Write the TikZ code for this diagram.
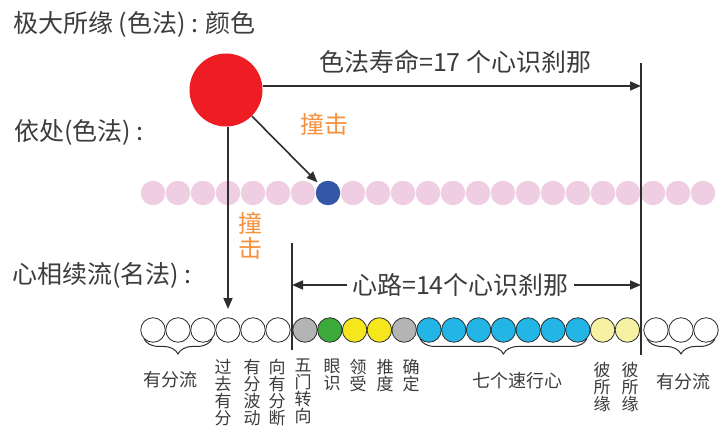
\documentclass[tikz,border=0pt]{standalone}
\usepackage{fontspec}
\setmainfont{Noto Sans CJK SC}
\usetikzlibrary{arrows.meta,decorations.pathreplacing}
\definecolor{txt}{HTML}{3C3C3C}
\definecolor{ln}{HTML}{2E2E2E}
\definecolor{redc}{HTML}{EE1D24}
\definecolor{orangec}{HTML}{F7913D}
\definecolor{pinkc}{HTML}{EFCDE2}
\definecolor{bluec}{HTML}{3457A5}
\definecolor{grayc}{HTML}{B4B4B4}
\definecolor{greenc}{HTML}{3CAA3A}
\definecolor{yelc}{HTML}{F6E61C}
\definecolor{pyelc}{HTML}{F7F1A4}
\definecolor{cyanc}{HTML}{22B5E5}
\begin{document}
\begin{tikzpicture}[x=1pt,y=-1pt,
  lbl/.style={font=\fontsize{25}{27}\selectfont, text=txt, inner sep=0},
  hit/.style={font=\fontsize{24}{25}\selectfont, text=orangec, inner sep=0, align=center},
  small/.style={font=\fontsize{18}{19}\selectfont, text=txt, inner sep=0, align=center},
  col/.style={font=\fontsize{17}{17}\selectfont, text=txt, inner sep=0, align=center},
  dot/.style={circle, minimum size=24.5, inner sep=0},
  bead/.style={dot, draw=ln, line width=0.8},
  conn/.style={draw=ln, line width=1.6},
  arr/.style={conn, -{Triangle[length=11pt,width=9pt]}},
  brc/.style={draw=ln, line width=1, decorate, decoration={brace, mirror, amplitude=15, aspect=0.5}}
]
\useasboundingbox (0,0) rectangle (721,428);
\fill[white] (0,0) rectangle (721,428);

% left labels
\node[lbl, anchor=west] (t1) at (13,24) {极大所缘 (色法) : 颜色};
\node[lbl, anchor=west] (t2) at (14,132) {依处(色法) :};
\node[lbl, anchor=west] (t3) at (12,275) {心相续流(名法) :};

% pink stream
\foreach \i in {0,...,6,8,9,...,22}
  \node[dot, fill=pinkc] (p\i) at ({153+25*\i},193) {};
\node[dot, fill=bluec] (p7) at (328,193) {};

% red object
\node[dot, fill=redc, minimum size=73] (red) at (226,90) {};

% top life-span arrow
\node[lbl, anchor=west] (life) at (319,62) {色法寿命=17 个心识刹那};
\coordinate (tEnd) at (641,86);
\coordinate (rTop) at (641,63);
\coordinate (rBot) at (641,355);
\draw[conn] (rTop) -- (rBot);
\draw[arr] (red.east |- tEnd) -- (tEnd);

% impacts
\node[hit, anchor=west] (hitA) at (300,124) {撞击};
\draw[arr, shorten >=2.5] (red) -- (p7);
\node[hit] (hitB) at (250,236) {撞\\击};
\coordinate (dn) at (228,309);
\draw[arr] (red.south -| dn) -- (dn);

% left vertical line
\coordinate (lTop) at (292,243);
\coordinate (lBot) at (292,350);
\draw[conn] (lTop) -- (lBot);

% mind path arrow
\node[lbl, inner xsep=5, anchor=west] (path) at (347,285) {心路=14个心识刹那};
\draw[arr] (path.west) -- (path.west -| lTop);
\draw[arr] (path.east) -- (path.east -| rTop);

% bottom bead row
\foreach \i/\x in {1/153,2/178,3/203,4/228,5/253,6/278}
  \node[bead, fill=white] (w\i) at (\x,330) {};
\foreach \i/\c in {1/grayc,2/greenc,3/yelc,4/yelc,5/grayc,6/cyanc,7/cyanc,8/cyanc,9/cyanc,10/cyanc,11/cyanc,12/cyanc,13/pyelc,14/pyelc}
  \node[bead, fill=\c] (m\i) at ({305+24.8*(\i-1)},330) {};
\foreach \i/\x in {1/656,2/681,3/706}
  \node[bead, fill=white] (r\i) at (\x,330) {};

% braces
\draw[brc] (w1.south west) -- (w3.south east);
\draw[brc] (m6.south west) -- (m12.south east);
\draw[brc] (r1.south west) -- (r3.south east);

\node[small] (bl1) at (170,380) {有分流};
\node[small] (bl2) at (517,381) {七个速行心};
\node[small] (bl3) at (683,382) {有分流};

% vertical labels
\node[col, anchor=north] (v1) at (223,359) {过\\去\\有\\分};
\node[col, anchor=north] (v2) at (252,359) {有\\分\\波\\动};
\node[col, anchor=north] (v3) at (277,359) {向\\有\\分\\断};
\node[col, anchor=north] (v4) at (303,359) {五\\门\\转\\向};
\node[col, anchor=north] (v5) at (332,359) {眼\\识};
\node[col, anchor=north] (v6) at (358,359) {领\\受};
\node[col, anchor=north] (v7) at (385,359) {推\\度};
\node[col, anchor=north] (v8) at (411,359) {确\\定};
\node[col, anchor=north] (v9) at (602,362) {彼\\所\\缘};
\node[col, anchor=north] (v10) at (630,362) {彼\\所\\缘};
\end{tikzpicture}
\end{document}
